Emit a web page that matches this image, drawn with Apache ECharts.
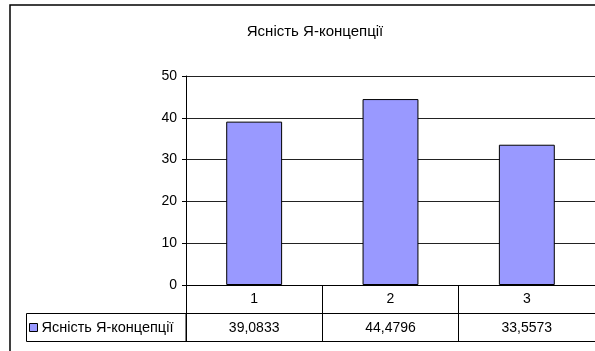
<!DOCTYPE html>
<html>
<head>
<meta charset="utf-8">
<script src="https://cdn.jsdelivr.net/npm/echarts@6/dist/echarts.min.js"></script>
<style>
html,body{margin:0;padding:0;background:#fff;}
#main{width:595px;height:351px;}
</style>
</head>
<body>
<div id="main"></div>
<script>
var titleText = 'Ясність Я-концепції';
var seriesName = 'Ясність Я-концепції';
var categories = ['1', '2', '3'];
var values = [39.0833, 44.4796, 33.5573];
var yTicks = {min: 0, max: 50, interval: 10};

function fmt(v) { return String(v).replace('.', ','); }

var chart = echarts.init(document.getElementById('main'), null, {renderer: 'canvas'});
var FONT = '"Liberation Sans", Arial, sans-serif';
var option = {
  animation: false,
  backgroundColor: '#fff',
  textStyle: {fontFamily: FONT},
  title: {
    text: titleText,
    left: 310,
    top: 19,
    textAlign: 'center',
    textStyle: {fontFamily: FONT, fontSize: 15, fontWeight: 'normal', color: '#000'}
  },
  legend: {
    left: 29,
    top: 320,
    itemWidth: 8,
    itemHeight: 8,
    itemGap: 4,
    icon: 'rect',
    padding: 0,
    data: [seriesName],
    itemStyle: {borderColor: '#000', borderWidth: 1},
    textStyle: {fontFamily: FONT, fontSize: 14.5, color: '#000', padding: [0, 0, 0, -1]}
  },
  grid: {left: 186, right: -1, top: 76, bottom: 66, containLabel: false},
  xAxis: [
    {
      type: 'category',
      data: categories,
      position: 'bottom',
      boundaryGap: true,
      axisLine: {show: true, lineStyle: {color: '#000', width: 1}},
      axisTick: {show: true, interval: 0, length: 56, lineStyle: {color: '#000', width: 1}},
      axisLabel: {margin: 7, fontFamily: FONT, fontSize: 14, color: '#000'},
      splitLine: {show: false}
    },
    {
      type: 'category',
      data: values.map(fmt),
      position: 'bottom',
      offset: 28,
      boundaryGap: true,
      axisLine: {show: true, lineStyle: {color: '#000', width: 1}},
      axisTick: {show: false},
      axisLabel: {margin: 8, fontFamily: FONT, fontSize: 14, color: '#000'},
      splitLine: {show: false}
    },
    {
      type: 'category',
      data: categories,
      position: 'bottom',
      offset: 56,
      boundaryGap: true,
      axisLine: {show: true, lineStyle: {color: '#000', width: 1}},
      axisTick: {show: false},
      axisLabel: {show: false},
      splitLine: {show: false}
    }
  ],
  yAxis: {
    type: 'value',
    min: yTicks.min,
    max: yTicks.max,
    interval: yTicks.interval,
    axisLine: {show: true, lineStyle: {color: '#000', width: 1}},
    axisTick: {show: true, length: 4, lineStyle: {color: '#000'}},
    axisLabel: {margin: 9, fontFamily: FONT, fontSize: 14, color: '#000'},
    splitLine: {show: true, lineStyle: {color: '#222', width: 1}}
  },
  series: [{
    name: seriesName,
    type: 'bar',
    xAxisIndex: 0,
    data: values,
    barWidth: '41%',
    itemStyle: {color: '#9999FF', borderColor: '#000', borderWidth: 1}
  }],
  graphic: [
    {
      type: 'rect',
      shape: {x: 10, y: 5, width: 620, height: 380},
      style: {fill: 'none', stroke: '#000', lineWidth: 1.5},
      silent: true,
      z: 100
    },
    {
      type: 'rect',
      shape: {x: 26.5, y: 313.5, width: 159.5, height: 28},
      style: {fill: 'none', stroke: '#000', lineWidth: 1},
      silent: true,
      z: 100
    }
  ]
};
chart.setOption(option);
</script>
</body>
</html>
